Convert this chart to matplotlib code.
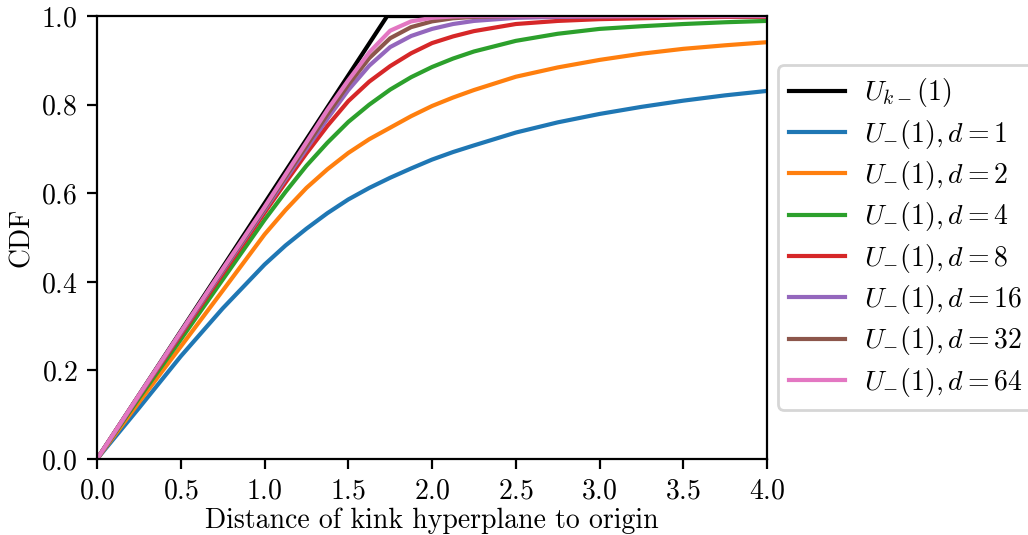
import matplotlib
matplotlib.use("Agg")
import matplotlib.pyplot as plt

plt.rcParams["font.family"] = "serif"
plt.rcParams["font.serif"] = ["cmr10", "DejaVu Serif"]
plt.rcParams["mathtext.fontset"] = "cm"
plt.rcParams["axes.formatter.use_mathtext"] = True

# distance grid shared by the d-curves (denser where the curves bend)
x = [0, 0.25, 0.5, 0.75, 1.0, 1.125, 1.25, 1.375, 1.5, 1.625, 1.75, 1.875, 2.0,
     2.125, 2.25, 2.5, 2.75, 3.0, 3.25, 3.5, 3.75, 4.0]

# uniform reference U_{k-}(1): linear up to sqrt(3)
x_unif = [0, 1.732, 4.0]
cdf_unif = [0, 1.0, 1.0]

cdf_d1 = [0, 0.115, 0.232, 0.340, 0.439, 0.482, 0.520, 0.555, 0.586, 0.612, 0.635,
          0.656, 0.676, 0.693, 0.708, 0.737, 0.760, 0.779, 0.795, 0.809, 0.821, 0.831]
cdf_d2 = [0, 0.128, 0.254, 0.380, 0.507, 0.562, 0.612, 0.654, 0.691, 0.722, 0.748,
          0.774, 0.797, 0.816, 0.833, 0.863, 0.884, 0.901, 0.915, 0.926, 0.934, 0.941]
cdf_d4 = [0, 0.137, 0.270, 0.405, 0.540, 0.603, 0.662, 0.714, 0.761, 0.800, 0.834,
          0.862, 0.885, 0.904, 0.920, 0.944, 0.960, 0.971, 0.977, 0.982, 0.986, 0.989]
cdf_d8 = [0, 0.142, 0.280, 0.418, 0.556, 0.624, 0.690, 0.752, 0.808, 0.852, 0.887,
          0.916, 0.939, 0.954, 0.966, 0.982, 0.989, 0.993, 0.995, 0.997, 0.998, 0.998]
cdf_d16 = [0, 0.143, 0.284, 0.424, 0.562, 0.632, 0.700, 0.768, 0.833, 0.888, 0.930,
           0.955, 0.971, 0.982, 0.989, 0.996, 0.998, 0.999, 1.0, 1.0, 1.0, 1.0]
cdf_d32 = [0, 0.144, 0.286, 0.427, 0.566, 0.637, 0.707, 0.778, 0.845, 0.905, 0.950,
           0.975, 0.988, 0.995, 0.998, 1.0, 1.0, 1.0, 1.0, 1.0, 1.0, 1.0]
cdf_d64 = [0, 0.144, 0.287, 0.429, 0.569, 0.642, 0.715, 0.788, 0.855, 0.918, 0.967,
           0.988, 0.996, 0.999, 1.0, 1.0, 1.0, 1.0, 1.0, 1.0, 1.0, 1.0]

dims = [1, 2, 4, 8, 16, 32, 64]
curves = [cdf_d1, cdf_d2, cdf_d4, cdf_d8, cdf_d16, cdf_d32, cdf_d64]

fig = plt.figure(figsize=(5.14, 2.675), dpi=200)
ax = fig.add_axes([0.0944, 0.142, 0.6518, 0.828])

ax.plot(x_unif, cdf_unif, color="black", label=r"$U_{k-}(1)$")
for d, c in zip(dims, curves):
    ax.plot(x, c, label=r"$U_{-}(1), d = %d$" % d)

ax.set_xlim(0, 4)
ax.set_ylim(0, 1)
ax.set_xlabel("Distance of kink hyperplane to origin", labelpad=1)
ax.set_ylabel("CDF", labelpad=2)
ax.legend(loc="center left", bbox_to_anchor=(1.0, 0.5), labelspacing=0.3,
          borderaxespad=0.4, handletextpad=0.7)

fig.savefig("out.png", dpi=200)
